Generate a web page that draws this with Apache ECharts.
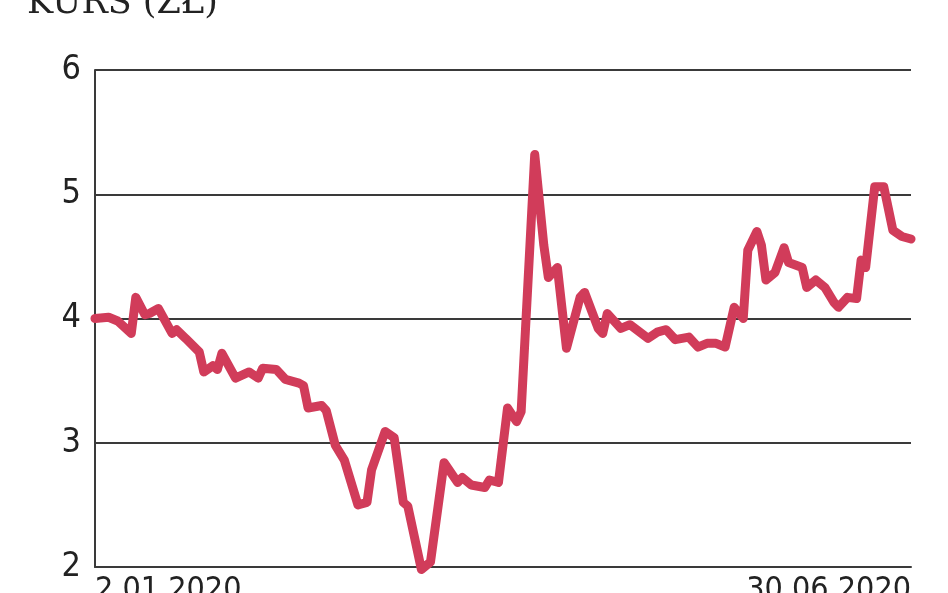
<!DOCTYPE html>
<html>
<head>
<meta charset="utf-8">
<script src="https://cdn.jsdelivr.net/npm/echarts@6/dist/echarts.min.js"></script>
<style>
html,body{margin:0;padding:0;background:#fff;}
#chart{width:948px;height:593px;}
</style>
</head>
<body>
<div id="chart"></div>
<script>
var titleText = 'KURS (ZŁ)';
var dates = ['2020-01-02','2020-01-05','2020-01-07','2020-01-10','2020-01-11','2020-01-13','2020-01-14','2020-01-16','2020-01-19','2020-01-20',
'2020-01-22','2020-01-25','2020-01-26','2020-01-28','2020-01-29','2020-01-30','2020-02-02','2020-02-05','2020-02-07','2020-02-08',
'2020-02-11','2020-02-13','2020-02-16','2020-02-17','2020-02-18','2020-02-21','2020-02-22','2020-02-24','2020-02-26','2020-02-29',
'2020-03-02','2020-03-03','2020-03-06','2020-03-08','2020-03-10','2020-03-11','2020-03-14','2020-03-16','2020-03-19','2020-03-22',
'2020-03-23','2020-03-25','2020-03-28','2020-03-29','2020-03-31','2020-04-02','2020-04-04','2020-04-05','2020-04-08','2020-04-10',
'2020-04-11','2020-04-13','2020-04-15','2020-04-18','2020-04-19','2020-04-22','2020-04-23','2020-04-24','2020-04-27','2020-04-29',
'2020-05-03','2020-05-05','2020-05-07','2020-05-09','2020-05-12','2020-05-14','2020-05-16','2020-05-18','2020-05-20','2020-05-22',
'2020-05-24','2020-05-25','2020-05-27','2020-05-28','2020-05-29','2020-05-31','2020-06-02','2020-06-03','2020-06-06','2020-06-07',
'2020-06-09','2020-06-11','2020-06-13','2020-06-14','2020-06-16','2020-06-18','2020-06-19','2020-06-20','2020-06-22','2020-06-24',
'2020-06-26','2020-06-28','2020-06-30'];
var prices = [4.00,4.01,3.98,3.88,4.17,4.03,4.04,4.08,3.88,3.91,
3.84,3.73,3.57,3.62,3.59,3.72,3.52,3.57,3.52,3.60,
3.59,3.51,3.48,3.46,3.28,3.30,3.26,2.98,2.86,2.50,
2.52,2.78,3.09,3.04,2.52,2.49,1.98,2.04,2.84,2.68,
2.72,2.66,2.64,2.70,2.68,3.28,3.17,3.25,5.32,4.59,
4.33,4.41,3.76,4.17,4.21,3.92,3.88,4.04,3.92,3.95,
3.84,3.89,3.91,3.83,3.85,3.77,3.80,3.80,3.77,4.09,
4.00,4.55,4.70,4.59,4.31,4.37,4.57,4.45,4.41,4.25,
4.31,4.25,4.13,4.09,4.17,4.16,4.47,4.41,5.06,5.06,
4.71,4.66,4.64];
var xStart = '2020-01-02', xEnd = '2020-06-30';
var xTickLabels = ['2.01.2020', '30.06.2020'];
var yTicks = [2, 3, 4, 5, 6];

function ts(s) { var p = s.split('-'); return Date.UTC(+p[0], +p[1] - 1, +p[2]); }
var chart = echarts.init(document.getElementById('chart'), null, {renderer: 'canvas'});
var t0 = ts(xStart), t1 = ts(xEnd);
var labelFont = '"DejaVu Sans Condensed", "Liberation Sans Narrow", sans-serif';
chart.setOption({
  animation: false,
  backgroundColor: '#ffffff',
  grid: {left: 95, right: 37, top: 70, bottom: 26, containLabel: false, outerBoundsMode: 'none'},
  graphic: [{
    type: 'text', left: 27, top: -14,
    style: {text: titleText, font: '35px "DejaVu Serif", serif', fill: '#222'}
  }],
  xAxis: {
    type: 'value', min: t0, max: t1,
    axisLine: {show: true, onZero: false, lineStyle: {color: '#3a3a3a', width: 2}},
    axisTick: {show: false},
    splitLine: {show: false},
    axisLabel: {
      customValues: [t0, t1],
      alignMinLabel: 'left', alignMaxLabel: 'right',
      showMinLabel: true, showMaxLabel: true,
      margin: 8,
      color: '#222', fontSize: 32, fontFamily: labelFont,
      formatter: function (v) { return Math.abs(v - t0) < Math.abs(v - t1) ? xTickLabels[0] : xTickLabels[1]; }
    }
  },
  yAxis: {
    type: 'value', min: yTicks[0], max: yTicks[yTicks.length - 1], interval: 1,
    axisLine: {show: true, lineStyle: {color: '#3a3a3a', width: 2}},
    axisTick: {show: false},
    splitLine: {show: true, lineStyle: {color: '#3a3a3a', width: 2}},
    axisLabel: {margin: 14, color: '#222', fontSize: 34, fontFamily: labelFont}
  },
  series: [{
    type: 'line',
    data: dates.map(function (d, i) { return [ts(d), prices[i]]; }),
    showSymbol: false,
    symbol: 'none',
    clip: false,
    z: 5,
    lineStyle: {color: '#d13c5a', width: 9, join: 'round', cap: 'round'}
  }]
});
</script>
</body>
</html>
